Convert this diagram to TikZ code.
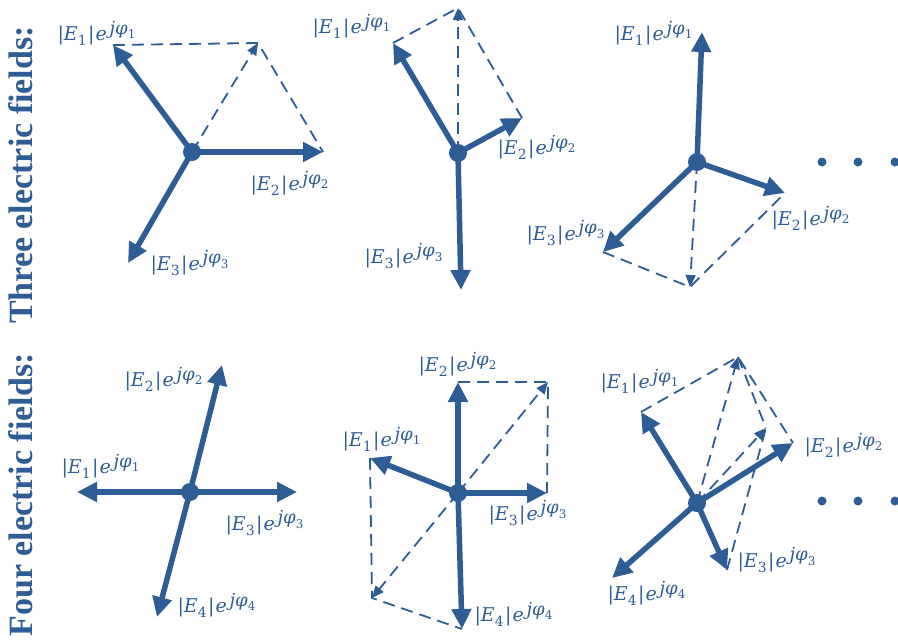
\documentclass[tikz,border=0pt]{standalone}
\usepackage{fontspec}
\usepackage{amsmath}
\setmainfont{Liberation Serif}
\newfontfamily\dvs{DejaVu Serif}
\usetikzlibrary{arrows.meta}
\definecolor{fb}{RGB}{46,92,148}
\DeclareMathSizes{19}{19}{18}{13}
\newcommand\ti[1]{\text{\dvs\itshape #1}}
\newcommand\tsub[1]{\text{\fontsize{14}{14}\selectfont\dvs\upshape #1}}
\newcommand\tsup[1]{\text{\fontsize{18}{18}\selectfont\dvs\itshape #1}}
\newcommand\tss[1]{\text{\fontsize{12}{12}\selectfont\dvs\upshape #1}}
\newcommand\tu[1]{\text{\dvs\upshape #1}}
\newcommand\lab[1]{$\tu{|}\ti{E}_{\tsub{#1}}\mkern1mu\tu{|}\mkern1mu\ti{e}^{\,\tsup{jφ}_{\tss{#1}}}$}
\begin{document}
\begin{tikzpicture}[x=1pt,y=-1pt,
 vec/.style={line width=5.5pt,draw=fb,-{Triangle[length=20pt,width=19pt]}},
 dsh/.style={line width=1.8pt,draw=fb,dash pattern=on 12pt off 7pt},
 dar/.style={dsh,-{Triangle[length=12pt,width=10pt]}},
 hub/.style={circle,fill=fb,inner sep=0pt,minimum size=18pt},
 lbl/.style={text=fb,font=\fontsize{19}{21}\selectfont,inner sep=0pt},
 side/.style={text=fb,font=\fontsize{34}{36}\selectfont\bfseries,rotate=90,anchor=base,inner sep=0pt},
 dotn/.style={circle,fill=fb,inner sep=0pt,minimum size=9pt}]
\useasboundingbox (0,0) rectangle (898,643);

% side titles
\node[side] (t3) at (32,175) {Three electric fields:};
\node[side] (t4) at (32,495) {Four electric fields:};

% ---------- panel 1
\node[hub] (c1) at (192,152) {};
\coordinate (a11) at (113,45);
\coordinate (a12) at (323,152);
\coordinate (a13) at (128,263);
\coordinate (s1) at (258,43);
\draw[dsh] (a11) -- (s1) -- (a12);
\draw[dar] (c1.center) -- (s1);
\draw[vec] (c1.center) -- (a11);
\draw[vec] (c1.center) -- (a12);
\draw[vec] (c1.center) -- (a13);
\node[lbl] (l11) at (97,33) {\lab{1}};
\node[lbl] (l12) at (290,183) {\lab{2}};
\node[lbl] (l13) at (190,263) {\lab{3}};

% ---------- panel 2
\node[hub] (c2) at (458,153) {};
\coordinate (a21) at (393,43);
\coordinate (a22) at (522,118);
\coordinate (a23) at (461,290);
\coordinate (s2) at (458,8);
\draw[dsh] (a21) -- (s2) -- (a22);
\draw[dar] (c2.center) -- (s2);
\draw[vec] (c2.center) -- (a21);
\draw[vec] (c2.center) -- (a22);
\draw[vec] (c2.center) -- (a23);
\node[lbl] (l21) at (352,26) {\lab{1}};
\node[lbl] (l22) at (537,147) {\lab{2}};
\node[lbl] (l23) at (404,256) {\lab{3}};

% ---------- panel 3
\node[hub] (c3) at (697,162) {};
\coordinate (a31) at (702,32);
\coordinate (a32) at (785,193);
\coordinate (a33) at (603,252);
\coordinate (s3) at (690,287);
\draw[dsh] (a33) -- (s3) -- (a32);
\draw[dar] (c3.center) -- (s3);
\draw[vec] (c3.center) -- (a31);
\draw[vec] (c3.center) -- (a32);
\draw[vec] (c3.center) -- (a33);
\node[lbl] (l31) at (654,33) {\lab{1}};
\node[lbl] (l32) at (811,218) {\lab{2}};
\node[lbl] (l33) at (566,233) {\lab{3}};

\node[dotn] (d11) at (822,162) {};
\node[dotn] (d12) at (858,162) {};
\node[dotn] (d13) at (895,162) {};

% ---------- panel 4
\node[hub] (c4) at (190,492) {};
\coordinate (a41) at (77,492);
\coordinate (a42) at (222,365);
\coordinate (a43) at (297,492);
\coordinate (a44) at (157,617);
\draw[vec] (c4.center) -- (a41);
\draw[vec] (c4.center) -- (a42);
\draw[vec] (c4.center) -- (a43);
\draw[vec] (c4.center) -- (a44);
\node[lbl] (l42) at (164,379) {\lab{2}};
\node[lbl] (l41) at (101,466) {\lab{1}};
\node[lbl] (l43) at (265,523) {\lab{3}};
\node[lbl] (l44) at (217,605) {\lab{4}};

% ---------- panel 5
\node[hub] (c5) at (458,493) {};
\coordinate (a51) at (370,458);
\coordinate (a52) at (458,382);
\coordinate (a53) at (547,493);
\coordinate (a54) at (462,629);
\coordinate (p5) at (548,382);
\coordinate (q5) at (372,598);
\draw[dsh] (a52) -- (p5) -- (a53);
\draw[dsh] (a51) -- (q5) -- (a54);
\draw[dar] (c5.center) -- (p5);
\draw[dar] (c5.center) -- (q5);
\draw[vec] (c5.center) -- (a51);
\draw[vec] (c5.center) -- (a52);
\draw[vec] (c5.center) -- (a53);
\draw[vec] (c5.center) -- (a54);
\node[lbl] (l52) at (458,364) {\lab{2}};
\node[lbl] (l51) at (382,439) {\lab{1}};
\node[lbl] (l53) at (528,513) {\lab{3}};
\node[lbl] (l54) at (514,614) {\lab{4}};

% ---------- panel 6
\node[hub] (c6) at (697,503) {};
\coordinate (a61) at (641,412);
\coordinate (a62) at (793,443);
\coordinate (a63) at (727,570);
\coordinate (a64) at (612,578);
\coordinate (t6) at (738,357);
\coordinate (u6) at (766,428);
\draw[dsh] (a61) -- (t6) -- (a62);
\draw[dsh] (t6) -- (u6);
\draw[dsh] (a63) -- (u6);
\draw[dar] (c6.center) -- (t6);
\draw[dar] (c6.center) -- (u6);
\draw[vec] (c6.center) -- (a61);
\draw[vec] (c6.center) -- (a62);
\draw[vec] (c6.center) -- (a63);
\draw[vec] (c6.center) -- (a64);
\node[lbl] (l61) at (640,381) {\lab{1}};
\node[lbl] (l62) at (844,445) {\lab{2}};
\node[lbl] (l63) at (777,560) {\lab{3}};
\node[lbl] (l64) at (647,593) {\lab{4}};

\node[dotn] (d21) at (822,501) {};
\node[dotn] (d22) at (858,501) {};
\node[dotn] (d23) at (895,501) {};
\end{tikzpicture}
\end{document}
